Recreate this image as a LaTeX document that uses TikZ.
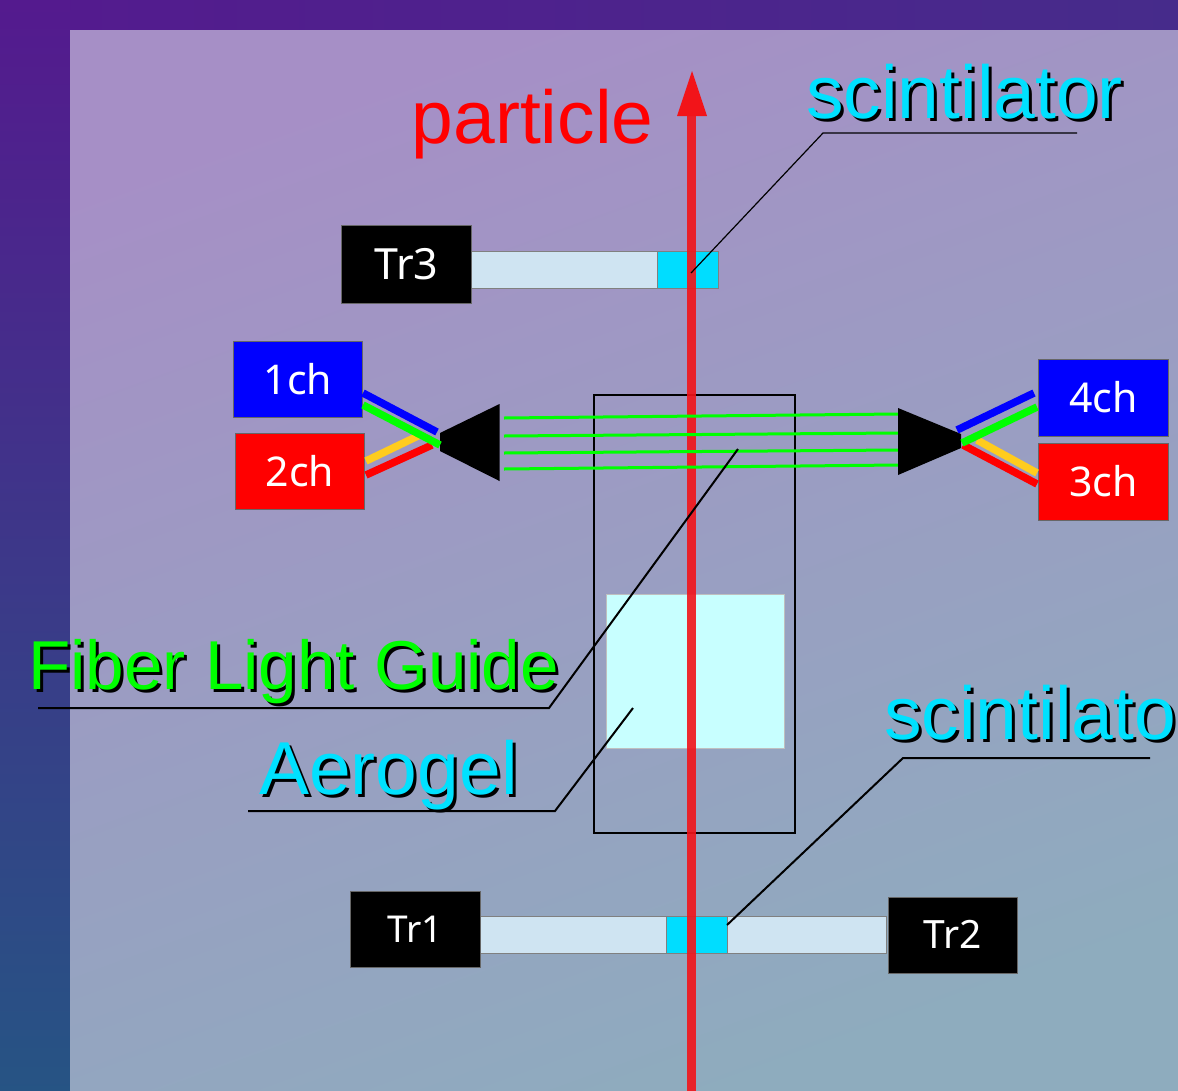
\documentclass[tikz,border=0pt]{standalone}
\usepackage{fontspec}
\setmainfont{Liberation Sans}
\newfontfamily\boxfont{Noto Sans}
\definecolor{cyanlab}{RGB}{0,225,255}
\definecolor{paleBar}{RGB}{207,228,242}
\definecolor{scint}{RGB}{0,221,255}
\definecolor{aero}{RGB}{200,255,255}
\definecolor{redray}{RGB}{242,20,25}
\definecolor{wireY}{RGB}{255,204,30}
\definecolor{fib}{RGB}{0,255,0}
\definecolor{outA}{RGB}{84,26,142}
\definecolor{outB}{RGB}{38,84,132}
\definecolor{inA}{RGB}{166,143,198}
\definecolor{inB}{RGB}{142,172,190}
\tikzset{
 chbox/.style={draw=gray!80!black,line width=.6pt,text=white,inner sep=0,font=\boxfont\fontsize{41}{45}\selectfont},
 bar/.style={draw=gray,line width=.8pt,fill=paleBar},
 scintbar/.style={draw=gray,line width=.8pt,fill=scint},
 wire/.style={line width=7.5pt},
 fibre/.style={fib,line width=3pt},
 big/.style={inner sep=0,anchor=base west,font=\fontsize{75}{80}\selectfont},
 shadow/.style={big,text=black},
 lead/.style={black,line width=2pt},
 fibfont/.style={font=\fontsize{69.2}{72}\selectfont},
}
\begin{document}
\begin{tikzpicture}[x=1pt,y=-1pt]
\useasboundingbox (0,0) rectangle (1178,1090);
\clip (0,0) rectangle (1178,1090);
% backgrounds
\shade[left color=outA,right color=outA!70!outB] (0,0) rectangle (1178,30);
\shade[top color=outA,bottom color=outB] (0,0) rectangle (70,1095);
\shade[shading=axis,top color=inA,bottom color=inB,shading angle=20] (70,30) rectangle (1178,1095);
% bars
\node[bar,minimum width=185.5pt,minimum height=37pt,inner sep=0,anchor=north west] (barT) at (471,251) {};
\node[scintbar,minimum width=61pt,minimum height=37pt,inner sep=0,anchor=north west] (scT) at (657,251) {};
\node[bar,minimum width=405.5pt,minimum height=37pt,inner sep=0,anchor=north west] (barB) at (480,916) {};
\node[scintbar,minimum width=61pt,minimum height=37pt,inner sep=0,anchor=north west] (scB) at (666,916) {};
% boxes
\node[chbox,fill=black,minimum width=130pt,minimum height=78pt,anchor=north west,font=\boxfont\fontsize{43}{45}\selectfont] (tr3) at (341,225) {Tr3};
\node[chbox,fill=black,minimum width=130pt,minimum height=76pt,anchor=north west,font=\boxfont\fontsize{37}{40}\selectfont] (tr1) at (350,891) {\raisebox{1pt}{Tr1}};
\node[chbox,fill=black,minimum width=129pt,minimum height=76pt,anchor=north west,font=\boxfont\fontsize{39}{40}\selectfont] (tr2) at (888,897) {\raisebox{1pt}{Tr2}};
\node[chbox,fill=blue,minimum width=129pt,minimum height=76pt,anchor=north west] (c1) at (233,341) {\raisebox{.5pt}{1ch}};
\node[chbox,fill=red,minimum width=129pt,minimum height=76pt,anchor=north west] (c2) at (235,433) {\raisebox{1pt}{2ch}};
\node[chbox,fill=blue,minimum width=130pt,minimum height=77pt,anchor=north west] (c4) at (1038,359) {\raisebox{1pt}{4ch}};
\node[chbox,fill=red,minimum width=130pt,minimum height=77pt,anchor=north west] (c3) at (1038,443) {\raisebox{2pt}{3ch}};
% aerogel and case
\node[draw=gray!50,fill=aero,minimum width=178pt,minimum height=154pt,inner sep=0,anchor=north west] (aerogel) at (606,594) {};
\node[draw=black,line width=2pt,minimum width=201pt,minimum height=438pt,inner sep=0,anchor=north west] (caseBox) at (592.5,393.5) {};
% ray
\fill[redray,opacity=.9] (686.5,1095) rectangle (695.5,116);
\fill[redray] (677,116) -- (692,71) -- (707,116) -- cycle;
% fibres
\draw[fibre] (504,418) -- (898,414);
\draw[fibre] (504,436) -- (898,433);
\draw[fibre] (504,453) -- (898,450);
\draw[fibre] (504,469) -- (898,465);
% cones
\fill[black] (440,433) -- (499.5,404) -- (499.5,481) -- (440,451) -- cycle;
\fill[black] (898,408) -- (961,434) -- (961,448) -- (898,475) -- cycle;
% wires
\draw[wire,wireY] (366,461) -- (420,435);
\draw[wire,red] (366,475) -- (432,445);
\draw[wire,blue] (363,393) -- (437,432);
\draw[wire,fib] (363,405) -- (440,445);
\draw[wire,wireY] (977,440) -- (1037,473);
\draw[wire,red] (963,445) -- (1037,484);
\draw[wire,blue] (957,430) -- (1034,393);
\draw[wire,fib] (962,443) -- (1037,407);
% leaders
\coordinate (l1a) at (1077,133); \coordinate (l1b) at (823,133); \coordinate (l1c) at (691,273);
\draw[lead,line width=1.2pt] (l1a) -- (l1b) -- (l1c);
\coordinate (l2a) at (38,708); \coordinate (l2b) at (549,708); \coordinate (l2c) at (738,449);
\draw[lead] (l2a) -- (l2b) -- (l2c);
\coordinate (l3a) at (248,811); \coordinate (l3b) at (555,811); \coordinate (l3c) at (633,708);
\draw[lead] (l3a) -- (l3b) -- (l3c);
\coordinate (l4a) at (1150,758); \coordinate (l4b) at (903,758); \coordinate (l4c) at (727,925);
\draw[lead] (l4a) -- (l4b) -- (l4c);
% labels
\node[big,text=red] (lp) at (411.5,143) {particle};
\node[shadow] (s1) at (809,121) {scintilator};
\node[big,text=cyanlab] (t1) at (806,118) {scintilator};
\node[shadow,fibfont] (s2) at (31,692) {Fiber Light Guide};
\node[big,text=fib,fibfont] (t2) at (28,689) {Fiber Light Guide};
\node[shadow] (s3) at (262,797) {Aerogel};
\node[big,text=cyanlab] (t3) at (259,794) {Aerogel};
\node[shadow] (s4) at (887,742) {scintilator};
\node[big,text=cyanlab] (t4) at (884,739) {scintilator};
\end{tikzpicture}
\end{document}
